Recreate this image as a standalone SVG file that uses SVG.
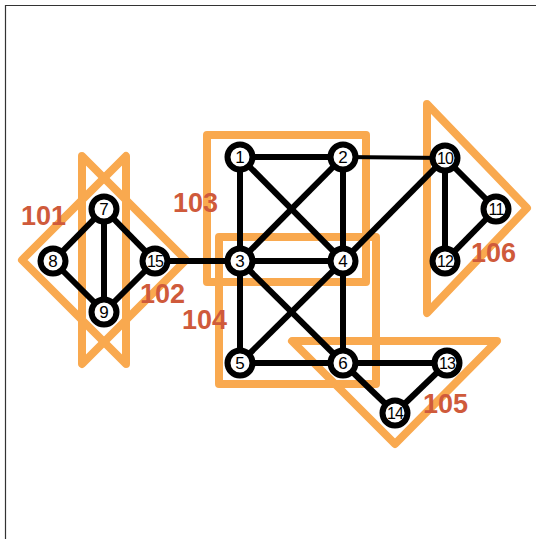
<svg xmlns="http://www.w3.org/2000/svg" width="536" height="539" viewBox="0 0 536 539">
<style>
.hull{fill:none;stroke:#f9a94f;stroke-width:8;stroke-linejoin:round}
.edge{stroke:#000;stroke-width:6;fill:none}
.node circle{fill:#fff;stroke:#000;stroke-width:6}
.node text{font-family:"Liberation Sans",Arial,sans-serif;font-size:17px;fill:#000;text-anchor:middle;dominant-baseline:central}
.node text.two{font-size:16px;letter-spacing:-0.8px}
.lbl{font-family:"Liberation Sans",Arial,sans-serif;font-size:27px;font-weight:bold;fill:#cf5a3b}
</style>
<rect width="536" height="539" fill="#fff"/>
<path d="M5.5 539V5.5H536" fill="none" stroke="#333" stroke-width="1.2"/>
<g id="hulls">
<polygon class="hull" points="22,260 126,156 126,364"/>
<polygon class="hull" points="82,156 186,260 82,364"/>
<rect class="hull" x="207" y="135" width="159" height="147"/>
<rect class="hull" x="219" y="237" width="157" height="147"/>
<polygon class="hull" points="292,341 497,341 395,444"/>
<polygon class="hull" points="427,104 527,208 427,313"/>
</g>
<g id="connectors">
<line class="edge" x1="240" y1="157" x2="343" y2="157"/>
<line class="edge" x1="240" y1="157" x2="240" y2="261"/>
<line class="edge" x1="240" y1="157" x2="343" y2="261"/>
<line class="edge" x1="343" y1="157" x2="240" y2="261"/>
<line class="edge" x1="343" y1="157" x2="343" y2="261"/>
<line class="edge" x1="343" y1="157" x2="445" y2="158" style="stroke-width:4"/>
<line class="edge" x1="240" y1="261" x2="343" y2="261"/>
<line class="edge" x1="240" y1="261" x2="240" y2="363"/>
<line class="edge" x1="240" y1="261" x2="343" y2="363"/>
<line class="edge" x1="343" y1="261" x2="240" y2="363"/>
<line class="edge" x1="343" y1="261" x2="343" y2="363"/>
<line class="edge" x1="343" y1="261" x2="445" y2="158"/>
<line class="edge" x1="240" y1="363" x2="343" y2="363"/>
<line class="edge" x1="343" y1="363" x2="447" y2="363"/>
<line class="edge" x1="343" y1="363" x2="395" y2="413"/>
<line class="edge" x1="447" y1="363" x2="395" y2="413"/>
<line class="edge" x1="445" y1="158" x2="496" y2="209"/>
<line class="edge" x1="445" y1="158" x2="445" y2="261"/>
<line class="edge" x1="496" y1="209" x2="445" y2="261"/>
<line class="edge" x1="104" y1="209" x2="53" y2="261"/>
<line class="edge" x1="104" y1="209" x2="104" y2="312"/>
<line class="edge" x1="104" y1="209" x2="155" y2="261"/>
<line class="edge" x1="53" y1="261" x2="104" y2="312"/>
<line class="edge" x1="104" y1="312" x2="155" y2="261"/>
<line class="edge" x1="155" y1="261" x2="240" y2="261"/>
</g>
<g id="n1" class="node"><circle cx="240" cy="157" r="12.5"/><text x="240" y="157">1</text></g>
<g id="n2" class="node"><circle cx="343" cy="157" r="12.5"/><text x="343" y="157">2</text></g>
<g id="n3" class="node"><circle cx="240" cy="261" r="12.5"/><text x="240" y="261">3</text></g>
<g id="n4" class="node"><circle cx="343" cy="261" r="12.5"/><text x="343" y="261">4</text></g>
<g id="n5" class="node"><circle cx="240" cy="363" r="12.5"/><text x="240" y="363">5</text></g>
<g id="n6" class="node"><circle cx="343" cy="363" r="12.5"/><text x="343" y="363">6</text></g>
<g id="n7" class="node"><circle cx="104" cy="209" r="12.5"/><text x="104" y="209">7</text></g>
<g id="n8" class="node"><circle cx="53" cy="261" r="12.5"/><text x="53" y="261">8</text></g>
<g id="n9" class="node"><circle cx="104" cy="312" r="12.5"/><text x="104" y="312">9</text></g>
<g id="n10" class="node"><circle cx="445" cy="158" r="12.5"/><text class="two" x="445" y="158">10</text></g>
<g id="n11" class="node"><circle cx="496" cy="209" r="12.5"/><text class="two" x="496" y="209">11</text></g>
<g id="n12" class="node"><circle cx="445" cy="261" r="12.5"/><text class="two" x="445" y="261">12</text></g>
<g id="n13" class="node"><circle cx="447" cy="363" r="12.5"/><text class="two" x="447" y="363">13</text></g>
<g id="n14" class="node"><circle cx="395" cy="413" r="12.5"/><text class="two" x="395" y="413">14</text></g>
<g id="n15" class="node"><circle cx="155" cy="261" r="12.5"/><text class="two" x="155" y="261">15</text></g>
<g id="labels">
<text class="lbl" x="21" y="225">101</text>
<text class="lbl" x="140" y="303">102</text>
<text class="lbl" x="173" y="212">103</text>
<text class="lbl" x="182" y="329">104</text>
<text class="lbl" x="423" y="413">105</text>
<text class="lbl" x="471" y="262">106</text>
</g>
</svg>
